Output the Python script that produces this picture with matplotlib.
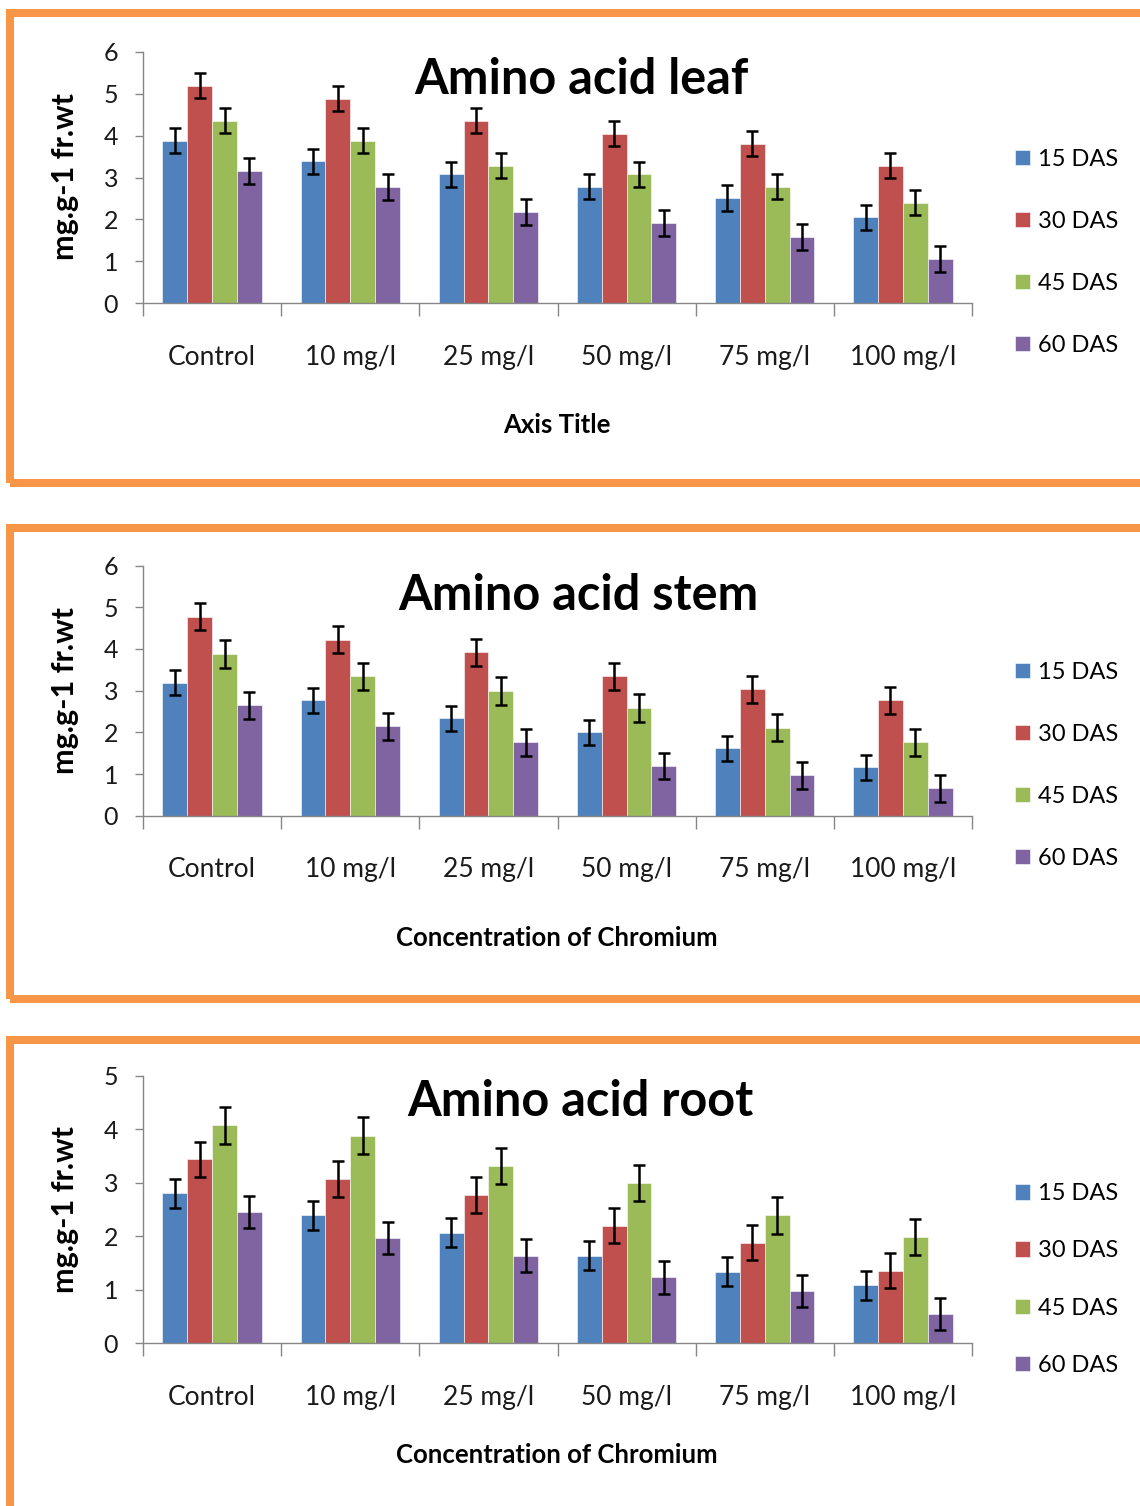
import matplotlib
matplotlib.use("Agg")
import matplotlib.pyplot as plt
from matplotlib.patches import Rectangle
from matplotlib.ticker import FixedLocator, NullFormatter
import numpy as np

plt.rcParams['font.family'] = ['Lato', 'DejaVu Sans']

categories = ["Control", "10 mg/l", "25 mg/l", "50 mg/l", "75 mg/l", "100 mg/l"]
series_names = ["15 DAS", "30 DAS", "45 DAS", "60 DAS"]
colors = ["#4F81BD", "#C0504D", "#9BBB59", "#8064A2"]

leaf_15 = [3.88, 3.39, 3.08, 2.78, 2.51, 2.05]
leaf_30 = [5.19, 4.88, 4.35, 4.04, 3.81, 3.28]
leaf_45 = [4.35, 3.88, 3.28, 3.08, 2.78, 2.40]
leaf_60 = [3.16, 2.78, 2.17, 1.91, 1.59, 1.06]
leaf_err = [0.30, 0.30, 0.30, 0.31]

stem_15 = [3.19, 2.77, 2.34, 2.00, 1.62, 1.16]
stem_30 = [4.77, 4.22, 3.92, 3.34, 3.03, 2.77]
stem_45 = [3.88, 3.34, 2.99, 2.58, 2.11, 1.76]
stem_60 = [2.65, 2.14, 1.76, 1.19, 0.97, 0.66]
stem_err = [0.30, 0.32, 0.33, 0.32]

root_15 = [2.80, 2.39, 2.07, 1.64, 1.34, 1.08]
root_30 = [3.44, 3.07, 2.77, 2.20, 1.88, 1.36]
root_45 = [4.07, 3.88, 3.31, 2.99, 2.39, 1.99]
root_60 = [2.45, 1.96, 1.64, 1.23, 0.97, 0.54]
root_err = [0.27, 0.33, 0.34, 0.30]

W, H = 1140, 1506
fig = plt.figure(figsize=(W / 100, H / 100), dpi=100)


def fx(x):
    return x / W


def fy(y):
    return 1 - y / H


ORANGE = "#F79646"
GRAY = "#868686"

panels = [
    dict(data=[leaf_15, leaf_30, leaf_45, leaf_60], err=leaf_err, title="Amino acid leaf",
         xlabel="Axis Title", ymax=6, ytop=51.7, ybot=303.3, box=(13.5, 483.5),
         title_xy=(581, 80), ylab_y=177, xlab_y=425, leg_y=252.5, leg_sp=1.74),
    dict(data=[stem_15, stem_30, stem_45, stem_60], err=stem_err, title="Amino acid stem",
         xlabel="Concentration of Chromium", ymax=6, ytop=565.5, ybot=815.7, box=(527.5, 998.5),
         title_xy=(578, 595), ylab_y=691, xlab_y=938, leg_y=765.5, leg_sp=1.74),
    dict(data=[root_15, root_30, root_45, root_60], err=root_err, title="Amino acid root",
         xlabel="Concentration of Chromium", ymax=5, ytop=1075.7, ybot=1343.3, box=(1040, 1540),
         title_xy=(580, 1102), ylab_y=1210, xlab_y=1455, leg_y=1279.5, leg_sp=1.53),
]

x0, x1 = 143, 972
bw = 0.18
x = np.arange(len(categories))

for p in panels:
    # orange frame
    top, bot = p["box"]
    fig.patches.append(Rectangle((fx(9.5), fy(bot)), fx(1200), fy(top) - fy(bot),
                                 transform=fig.transFigure, fill=False, edgecolor=ORANGE,
                                 linewidth=8 * 0.72, clip_on=False, zorder=0))
    ax = fig.add_axes([fx(x0), fy(p["ybot"]), fx(x1 - x0), fy(p["ytop"]) - fy(p["ybot"])])
    handles = []
    for i, (vals, c) in enumerate(zip(p["data"], colors)):
        pos = x + (i - 1.5) * bw
        h = ax.bar(pos, vals, width=bw, color=c, edgecolor="white", linewidth=0.4, zorder=2,
                   label=series_names[i])
        ax.errorbar(pos, vals, yerr=p["err"][i], fmt="none", ecolor="black",
                    elinewidth=1.8, capsize=4, capthick=1.8, zorder=3)
        handles.append(h)
    ax.set_xlim(-0.5, len(categories) - 0.5)
    ax.set_ylim(0, p["ymax"])
    ax.set_yticks(range(0, p["ymax"] + 1))
    ax.tick_params(axis="y", direction="out", length=6, width=1, color=GRAY,
                   labelsize=18, pad=12, labelcolor="#1a1a1a")
    ax.xaxis.set_major_locator(FixedLocator(np.arange(-0.5, len(categories), 1.0)))
    ax.xaxis.set_major_formatter(NullFormatter())
    ax.xaxis.set_minor_locator(FixedLocator(x))
    ax.set_xticklabels(categories, minor=True)
    ax.tick_params(axis="x", which="major", direction="out", length=9, width=1, color=GRAY)
    ax.tick_params(axis="x", which="minor", length=0, labelsize=19, pad=30, labelcolor="#1a1a1a")
    for s in ["top", "right"]:
        ax.spines[s].set_visible(False)
    for s in ["left", "bottom"]:
        ax.spines[s].set_color(GRAY)
        ax.spines[s].set_linewidth(1)
    ax.set_facecolor("none")

    fig.text(fx(p["title_xy"][0]), fy(p["title_xy"][1]), p["title"], ha="center", va="center",
             fontsize=35, fontweight="bold")
    fig.text(fx(65), fy(p["ylab_y"]), "mg.g-1 fr.wt", rotation=90, ha="center", va="center",
             fontsize=22, fontweight="bold")
    fig.text(fx(557), fy(p["xlab_y"]), p["xlabel"], ha="center", va="center",
             fontsize=18.5, fontweight="bold")
    fig.legend(handles=handles, loc="center left", bbox_to_anchor=(fx(1015), fy(p["leg_y"])),
               frameon=False, fontsize=17, handlelength=0.62, handleheight=0.62,
               handletextpad=0.35, labelspacing=p["leg_sp"], borderpad=0, borderaxespad=0)

fig.savefig("out.png", dpi=100)
